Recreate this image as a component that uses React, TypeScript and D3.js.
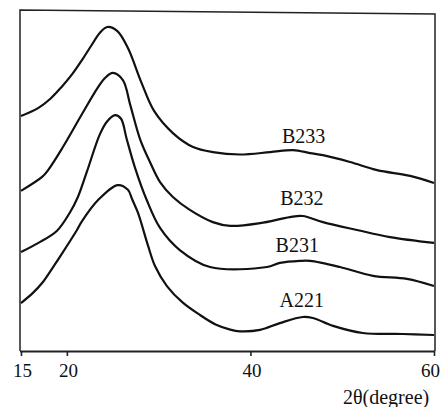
import { useEffect, useRef } from "react";
import * as d3 from "d3";

// 2θ (degree) and intensity (a.u.)
const b233 = [
  [15, 69.1], [16.9, 71.5], [18.2, 74.2], [19.4, 77.6], [20.6, 81.5], [21.7, 85.8],
  [22.7, 90.0], [23.6, 93.6], [24.4, 95.3], [25.5, 94.1], [26.65, 89.1], [28.1, 79.1],
  [29.5, 70.6], [31.55, 64.1], [33.75, 60.0], [35.9, 58.5], [38.85, 57.8], [42.15, 58.5],
  [44.65, 59.1], [46.5, 58.2], [47.9, 57.6], [50.85, 55.6], [53.8, 53.2], [57.4, 51.5],
  [60, 49.4],
];

const b232 = [
  [15, 47.1], [17.3, 51.2], [17.95, 53.2], [19.5, 59.7], [21.65, 69.7], [23.4, 77.6],
  [24.15, 80.3], [25.0, 81.8], [26.1, 79.7], [26.9, 72.4], [28.0, 62.1], [29.05, 55.6],
  [30.15, 49.7], [31.55, 45.3], [33.4, 41.5], [35.9, 37.9], [37.8, 36.8], [41.05, 37.6],
  [44.3, 39.4], [45.7, 39.7], [47.9, 37.9], [51.6, 35.6], [55.2, 33.5], [60, 31.8],
];

const b231 = [
  [15, 29.1], [16.9, 31.8], [18.9, 35.3], [20.3, 40.6], [21.2, 45.3], [22.2, 52.9],
  [23.6, 63.8], [24.4, 67.6], [25.25, 69.4], [25.9, 68.3], [26.5, 62.5], [27.4, 54.1],
  [28.7, 44.4], [30.15, 36.2], [32.3, 29.7], [35.6, 24.7], [41.8, 24.7], [43.2, 25.9],
  [45.4, 26.5], [46.5, 26.5], [49.75, 24.7], [53.35, 22.1], [57.05, 21.2], [60, 19.1],
];

const a221 = [
  [15, 14.1], [16.3, 17.1], [17.3, 20.0], [18.5, 24.7], [19.5, 28.8], [21.1, 35.6],
  [21.65, 38.2], [23.4, 44.4], [25.55, 48.8], [26.65, 47.4], [27.1, 44.7], [27.75, 40.6],
  [28.85, 30.9], [29.6, 25.0], [30.9, 19.1], [32.6, 14.3], [34.5, 10.6], [36.2, 7.8],
  [37.8, 6.3], [38.85, 5.8], [41.05, 6.2], [43.2, 8.2], [45.7, 10.0], [46.8, 9.7],
  [49.0, 7.4], [52.25, 5.3], [56.6, 5.0], [60, 4.7],
];

const seriesNames = ["B233", "B232", "B231", "A221"];
const seriesData = [b233, b232, b231, a221];
// where each sample name sits (2θ, intensity)
const labelAnchors = [
  [45.8, 61.2], [45.6, 42.9], [45.1, 29.1], [45.6, 12.9],
];
const xTicks = [15, 20, 40, 60];
const xTitle = "2θ(degree)";

const App = () => {
  const svgRef = useRef<SVGSVGElement>(null);

  useEffect(() => {
    const width = 441;
    const height = 407;
    const left = 20, right = 434, top = 10, bottom = 351;

    const x = d3.scaleLinear().domain([15, 60]).range([left + 1, right]);
    const y = d3.scaleLinear().domain([0, 100]).range([bottom, top + 1]);

    const svg = d3.select(svgRef.current);
    svg.selectAll("*").remove();
    svg.attr("width", width).attr("height", height)
      .style("font-family", "'Liberation Serif', 'Times New Roman', serif");

    // frame (left, top, right)
    svg.append("path")
      .attr("d", `M${left},${bottom}V${top}L${right + 1},${top + 4}V${bottom}`)
      .attr("fill", "none")
      .attr("stroke", "#222")
      .attr("stroke-width", 1.5);

    const xAxis = svg.append("g")
      .attr("transform", `translate(0,${bottom})`)
      .call(d3.axisBottom(x).tickValues(xTicks).tickSize(5).tickSizeOuter(0).tickPadding(8));
    xAxis.select(".domain")
      .attr("d", `M${left},0.5H${right + 1}`)
      .attr("stroke", "#222").attr("stroke-width", 1.8);
    xAxis.selectAll(".tick line").attr("stroke", "#222").attr("stroke-width", 1.6);
    xAxis.selectAll(".tick text")
      .attr("fill", "#111")
      .attr("dx", d => (d === 60 ? -4 : 1))
      .style("font-size", "19px")
      .style("font-family", "'Liberation Serif', serif");

    svg.append("text")
      .attr("x", 343)
      .attr("y", 404)
      .attr("fill", "#111")
      .style("font-size", "20px")
      .text(xTitle);

    const line = d3.line<number[]>()
      .x(d => x(d[0]))
      .y(d => y(d[1]))
      .curve(d3.curveCatmullRom.alpha(0.5));

    svg.append("g")
      .selectAll("path")
      .data(seriesData)
      .join("path")
      .attr("d", d => line(d))
      .attr("fill", "none")
      .attr("stroke", "#111")
      .attr("stroke-width", 2.2)
      .attr("stroke-linejoin", "round");

    svg.append("g")
      .attr("text-anchor", "middle")
      .selectAll("text")
      .data(seriesNames)
      .join("text")
      .attr("x", (d, i) => x(labelAnchors[i][0]))
      .attr("y", (d, i) => y(labelAnchors[i][1]))
      .attr("fill", "#111")
      .style("font-size", "20px")
      .text(d => d);
  }, []);

  return (
    <div>
      <svg ref={svgRef} style={{ position: "absolute", left: 0, top: 0, background: "#fff" }} />
    </div>
  );
};

export default App;
